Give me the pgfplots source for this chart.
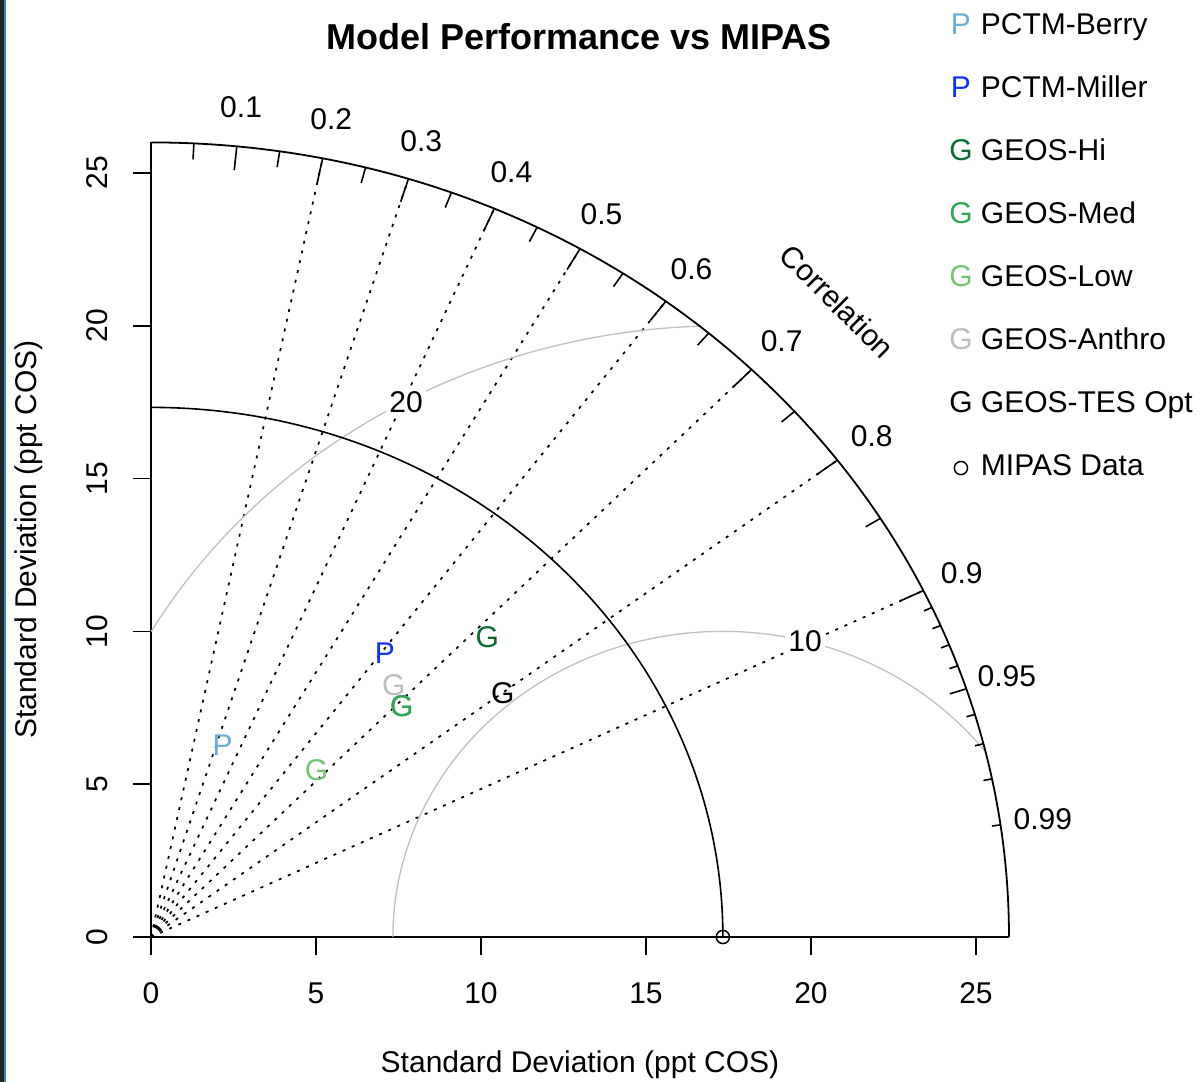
\documentclass[border=0pt]{standalone}
\usepackage{pgfplots}
\pgfplotsset{compat=1.18}
\usepackage{fontspec}
\setmainfont{Liberation Sans}
\definecolor{cBerry}{HTML}{6BAED6}
\definecolor{cMiller}{HTML}{1030FF}
\definecolor{cHi}{HTML}{0B6B35}
\definecolor{cMed}{HTML}{31A354}
\definecolor{cLow}{HTML}{74C476}
\definecolor{cAnthro}{HTML}{BDBDBD}
\definecolor{cArc}{HTML}{C0C0C0}
\definecolor{edgeDark}{HTML}{242424}
\definecolor{edgeBlue}{HTML}{2A8AD8}
\newcommand{\tf}{\fontsize{15}{18}\selectfont}
\pgfplotsset{
  lg/.style={legend image code/.code={\draw[##1] plot coordinates {(0pt,0pt)}; \path[draw=none] (-5pt,0pt) -- (10pt,0pt);}},
  tm/.style={only marks, mark=text, text mark={#1}, text mark as node=true, text mark style={font=\tf, inner sep=0pt, anchor=center}, lg},
}
\begin{document}
\begin{tikzpicture}
\begin{axis}[
  x=16.5pt, y=15.28pt,
  xmin=0, xmax=26, ymin=0, ymax=26,
  enlargelimits=false,
  axis x line*=bottom, axis y line*=left,
  axis line style={line width=1pt, black, -},
  xtick={0,5,10,15,20,25}, ytick={0,5,10,15,20,25},
  minor tick num=0,
  tick align=outside, major tick length=9pt,
  every tick/.style={line width=0.8pt, black},
  tick label style={font=\tf},
  /pgf/number format/assume math mode=true,
  xticklabel style={inner sep=0pt, yshift=-13.5pt},
  yticklabel style={xshift=-12.5pt, rotate=90, anchor=south, inner sep=0pt},
  clip=false,
  legend style={at={(axis cs:24.19,30.25)}, anchor=north west, draw=none, fill=none, inner sep=0pt, outer sep=0pt, row sep=17pt, font=\tf, nodes={inner sep=0pt, text height=11pt, text depth=3.5pt}},
  legend cell align=left,
]
% screenshot edge
\fill[edgeDark] (axis cs:-4.5758,-4.7448) rectangle (axis cs:-4.4545,30.661);
\fill[edgeBlue] (axis cs:-4.4545,-4.7448) rectangle (axis cs:-4.394,30.661);

% correlation rays
\pgfplotsinvokeforeach{0.2,0.3,0.4,0.5,0.6,0.7,0.8,0.9}{
  \draw[line width=0.85pt, dash pattern=on 1.5pt off 3.5pt] (axis cs:0,0) -- (axis cs:{26*#1},{26*sqrt(1-#1*#1)});
}
% centred RMS arcs
\draw[cArc, line width=0.65pt] (axis cs:25.264,6.088) arc[start angle=37.5, end angle=180, x radius=165pt, y radius=152.8pt];
\draw[cArc, line width=0.65pt] (axis cs:16.632,19.988) arc[start angle=92, end angle=150, x radius=330pt, y radius=305.6pt];
% reference sd arc
\draw[black, line width=0.8pt] (axis cs:17.33,0) arc[start angle=0, end angle=90, x radius=285.945pt, y radius=264.80pt];
% outer arc
\draw[black, line width=0.9pt] (axis cs:26,0) arc[start angle=0, end angle=90, x radius=429pt, y radius=397.28pt];
% ticks on the outer arc
\pgfplotsinvokeforeach{0.1,0.2,0.3,0.4,0.5,0.6,0.7,0.8,0.9}{
  \draw[line width=0.8pt] (axis cs:{26*#1},{26*sqrt(1-#1*#1)}) -- (axis cs:{25.22*#1},{25.22*sqrt(1-#1*#1)});
}
\pgfplotsinvokeforeach{0.05,0.15,0.25,0.35,0.45,0.55,0.65,0.75,0.85,0.95}{
  \draw[line width=0.8pt] (axis cs:{26*#1},{26*sqrt(1-#1*#1)}) -- (axis cs:{25.48*#1},{25.48*sqrt(1-#1*#1)});
}
\pgfplotsinvokeforeach{0.91,0.92,0.93,0.94,0.96,0.97,0.98,0.99}{
  \draw[line width=0.8pt] (axis cs:{26*#1},{26*sqrt(1-#1*#1)}) -- (axis cs:{25.74*#1},{25.74*sqrt(1-#1*#1)});
}
% correlation labels
\pgfplotsinvokeforeach{0.1,0.2,0.3,0.4,0.5,0.6,0.7,0.8,0.9,0.95,0.99}{
  \node[font=\tf, inner sep=0pt] at (axis cs:{27.3*#1},{27.3*sqrt(1-#1*#1)}) {#1};
}
\node[font=\tf, rotate=-45, inner sep=0pt] at (axis cs:20.8,20.8) {Correlation};
% arc labels
\node[font=\tf, fill=white, inner sep=1.5pt] at (axis cs:19.82,9.69) {10};
\node[font=\tf, fill=white, inner sep=1.5pt] at (axis cs:7.73,17.51) {20};

% models
\addplot[tm=P, color=cBerry] coordinates {(2.17,6.28)};
\addlegendentry{PCTM-Berry}
\addplot[tm=P, color=cMiller] coordinates {(7.09,9.28)};
\addlegendentry{PCTM-Miller}
\addplot[tm=G, color=cHi] coordinates {(10.19,9.81)};
\addlegendentry{GEOS-Hi}
\addplot[tm=G, color=cMed] coordinates {(7.60,7.56)};
\addlegendentry{GEOS-Med}
\addplot[tm=G, color=cLow] coordinates {(5.02,5.46)};
\addlegendentry{GEOS-Low}
\addplot[tm=G, color=cAnthro] coordinates {(7.36,8.25)};
\addlegendentry{GEOS-Anthro}
\addplot[tm=G, color=black] coordinates {(10.66,7.97)};
\addlegendentry{GEOS-TES Opt}
\addplot[only marks, mark=o, mark size=3.3pt, black, line width=0.75pt, lg] coordinates {(17.33,0)};
\addlegendentry{MIPAS Data}
\addplot[tm=G, color=cMed, forget plot] coordinates {(7.60,7.56)};

% titles
\node[font=\fontsize{18}{22}\selectfont\bfseries, anchor=base] at (axis cs:12.97,29.03) {Model Performance vs MIPAS};
\node[font=\tf, anchor=base] at (axis cs:13.0,-4.418) {Standard Deviation (ppt COS)};
\node[font=\tf, anchor=base, rotate=90] at (axis cs:-3.455,13.0) {Standard Deviation (ppt COS)};

\coordinate (bbll) at (axis cs:-4.5758,-4.7448);
\coordinate (bbur) at (axis cs:31.758,30.661);
\end{axis}
\pgfresetboundingbox
\path[use as bounding box] (bbll) rectangle (bbur);
\end{tikzpicture}
\end{document}
